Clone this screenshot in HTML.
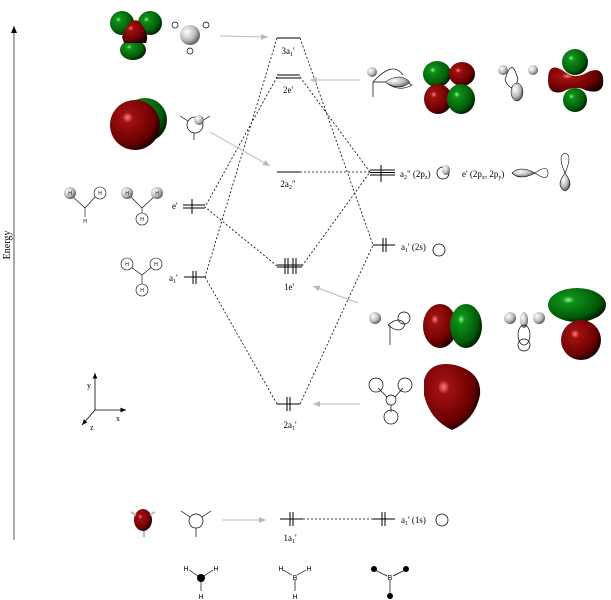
<!DOCTYPE html>
<html><head><meta charset="utf-8"><style>
body{margin:0;background:#fff}
svg{display:block;font-family:"Liberation Serif",serif}
</style></head><body>
<svg width="611" height="600" viewBox="0 0 611 600" xmlns="http://www.w3.org/2000/svg">
<defs>
<radialGradient id="r" cx="35%" cy="35%" r="70%"><stop offset="0" stop-color="#ff8080"/><stop offset="0.15" stop-color="#a01010"/><stop offset="0.75" stop-color="#6a0000"/><stop offset="1" stop-color="#1a0000"/></radialGradient>
<radialGradient id="g" cx="35%" cy="35%" r="70%"><stop offset="0" stop-color="#80ff80"/><stop offset="0.15" stop-color="#10901a"/><stop offset="0.75" stop-color="#005a08"/><stop offset="1" stop-color="#001a00"/></radialGradient>
<radialGradient id="w" cx="35%" cy="35%" r="70%"><stop offset="0" stop-color="#fff"/><stop offset="0.6" stop-color="#bbb"/><stop offset="1" stop-color="#555"/></radialGradient>
<marker id="ah" markerWidth="8" markerHeight="8" refX="7" refY="3" orient="auto"><path d="M0,0 L7,3 L0,6 z" fill="#000"/></marker>
<marker id="ga" markerWidth="8" markerHeight="8" refX="7" refY="3" orient="auto"><path d="M0,0 L7,3 L0,6 z" fill="#bbb"/></marker>
</defs>
<!-- energy axis -->
<line x1="14" y1="540" x2="14" y2="26" stroke="#555" stroke-width="1" marker-end="url(#ah)"/>
<text x="10" y="245" font-size="10" transform="rotate(-90 10 245)" text-anchor="middle">Energy</text>

<g stroke="#000" stroke-width="1" fill="none">
<!-- MO levels -->
<line x1="277" y1="38" x2="300" y2="38"/>
<line x1="277" y1="75" x2="300" y2="75"/><line x1="277" y1="78" x2="300" y2="78"/>
<line x1="277" y1="172" x2="300" y2="172"/>
<line x1="277" y1="265" x2="302" y2="265"/><line x1="277" y1="267" x2="302" y2="267"/>
<line x1="277" y1="404" x2="300" y2="404"/>
<line x1="280" y1="519" x2="303" y2="519"/>
<!-- left frag -->
<line x1="183" y1="205" x2="205" y2="205"/><line x1="183" y1="208" x2="205" y2="208"/>
<line x1="184" y1="277" x2="205" y2="277"/>
<!-- right B -->
<line x1="370" y1="170" x2="395" y2="170"/><line x1="370" y1="172.5" x2="395" y2="172.5"/><line x1="370" y1="175" x2="395" y2="175"/>
<line x1="373" y1="245" x2="395" y2="245"/>
<line x1="373" y1="519" x2="395" y2="519"/>
</g>
<!-- electrons -->
<g stroke="#000" stroke-width="1" fill="#000">
<line x1="192" y1="199" x2="192" y2="214"/>
<line x1="193" y1="271" x2="193" y2="284"/><line x1="196" y1="271" x2="196" y2="284"/>
<line x1="285" y1="258" x2="285" y2="274"/><line x1="288" y1="258" x2="288" y2="274"/><line x1="293" y1="258" x2="293" y2="274"/><line x1="296" y1="258" x2="296" y2="274"/>
<line x1="287" y1="397" x2="287" y2="411"/><line x1="290" y1="397" x2="290" y2="411"/>
<line x1="290" y1="512" x2="290" y2="526"/><line x1="293" y1="512" x2="293" y2="526"/>
<line x1="381" y1="165" x2="381" y2="182"/>
<line x1="383" y1="238" x2="383" y2="252"/><line x1="386" y1="238" x2="386" y2="252"/>
<line x1="382" y1="512" x2="382" y2="526"/><line x1="385" y1="512" x2="385" y2="526"/>
</g>
<!-- dashed connectors -->
<g stroke="#000" stroke-width="0.8" stroke-dasharray="2,2" fill="none">
<line x1="277" y1="38" x2="205" y2="277"/>
<line x1="277" y1="77" x2="205" y2="207"/>
<line x1="277" y1="266" x2="205" y2="207"/>
<line x1="277" y1="404" x2="205" y2="277"/>
<line x1="300" y1="38" x2="373" y2="245"/>
<line x1="300" y1="77" x2="370" y2="172"/>
<line x1="300" y1="172" x2="370" y2="172"/>
<line x1="302" y1="266" x2="370" y2="172"/>
<line x1="300" y1="404" x2="373" y2="245"/>
<line x1="303" y1="519" x2="373" y2="519"/>
</g>
<!-- grey arrows -->
<g stroke="#bbb" stroke-width="1" marker-end="url(#ga)">
<line x1="220" y1="36" x2="268" y2="37"/>
<line x1="360" y1="80" x2="310" y2="80"/>
<line x1="210" y1="132" x2="270" y2="166"/>
<line x1="358" y1="303" x2="313" y2="286"/>
<line x1="360" y1="404" x2="313" y2="404"/>
<line x1="222" y1="520" x2="266" y2="520"/>
</g>
<!-- labels -->
<g font-size="9" text-anchor="middle">
<text x="288" y="54">3a<tspan font-size="6" dy="2">1</tspan><tspan dy="-2">'</tspan></text>
<text x="288" y="93">2e'</text>
<text x="288" y="187">2a<tspan font-size="6" dy="2">2</tspan><tspan dy="-2">"</tspan></text>
<text x="289" y="290">1e'</text>
<text x="290" y="428">2a<tspan font-size="6" dy="2">1</tspan><tspan dy="-2">'</tspan></text>
<text x="290" y="541">1a<tspan font-size="6" dy="2">1</tspan><tspan dy="-2">'</tspan></text>
</g>
<g font-size="9">
<text x="172" y="209">e'</text>
<text x="169" y="281">a<tspan font-size="6" dy="2">1</tspan><tspan dy="-2">'</tspan></text>
<text x="400" y="177">a<tspan font-size="6" dy="2">2</tspan><tspan dy="-2">" (2p</tspan><tspan font-size="6" dy="2">z</tspan><tspan dy="-2">)</tspan></text>
<text x="462" y="177">e' (2p<tspan font-size="6" dy="2">x</tspan><tspan dy="-2">, 2p</tspan><tspan font-size="6" dy="2">y</tspan><tspan dy="-2">)</tspan></text>
<text x="401" y="250">a<tspan font-size="6" dy="2">1</tspan><tspan dy="-2">' (2s)</tspan></text>
<text x="401" y="523">a<tspan font-size="6" dy="2">1</tspan><tspan dy="-2">' (1s)</tspan></text>
</g>
<!-- small circles right -->
<g stroke="#000" stroke-width="0.8" fill="none">
<circle cx="439" cy="250" r="6"/>
<circle cx="442" cy="520" r="6"/>
<circle cx="443" cy="173" r="6"/>
</g>
<ellipse cx="446" cy="170" rx="4" ry="5" fill="url(#w)"/>
<path d="M512,173 Q520,165 535,173 Q520,181 512,173z" fill="url(#w)" stroke="#000" stroke-width="0.6"/>
<path d="M535,173 Q548,164 548,173 Q548,182 535,173z" fill="none" stroke="#000" stroke-width="0.6"/>
<path d="M305,170 Q296,180 305,190 Q314,180 305,170z" fill="none" stroke="none"/>
<path d="M565,173 Q555,186 565,191 Q575,186 565,173z" fill="url(#w)" stroke="#000" stroke-width="0.6"/>
<path d="M565,173 Q557,155 565,153 Q573,155 565,173z" fill="none" stroke="#000" stroke-width="0.6"/>

<!-- top left 3a1' -->
<circle cx="122" cy="23" r="12" fill="url(#g)"/>
<circle cx="150" cy="23" r="12" fill="url(#g)"/>
<ellipse cx="133" cy="50" rx="13" ry="10" fill="url(#g)"/>
<path d="M122,37 Q130,15 140,22 Q150,35 146,43 L124,43z" fill="url(#r)"/>
<circle cx="190" cy="35" r="10" fill="url(#w)"/>
<g stroke="#000" stroke-width="0.7" fill="#fff"><circle cx="175" cy="25" r="3"/><circle cx="206" cy="25" r="3"/><circle cx="190" cy="51" r="3"/></g>

<!-- red sphere -->
<circle cx="145" cy="120" r="22" fill="url(#g)"/>
<circle cx="135" cy="125" r="25" fill="url(#r)"/>
<g stroke="#000" stroke-width="0.7" fill="none"><circle cx="195" cy="125" r="8"/><line x1="180" y1="116" x2="188" y2="121"/><line x1="210" y1="116" x2="202" y2="121"/><line x1="194" y1="133" x2="194" y2="140"/></g>
<circle cx="199" cy="120" r="5" fill="url(#w)"/>

<!-- left frag H3 -->
<g stroke="#000" stroke-width="0.6" fill="none" font-family="Liberation Sans" font-size="5">
<line x1="72" y1="196" x2="85" y2="208"/><line x1="85" y1="208" x2="96" y2="196"/><line x1="85" y1="208" x2="85" y2="217"/>
<circle cx="100" cy="193" r="6" fill="#fff"/>
<line x1="130" y1="196" x2="142" y2="208"/><line x1="142" y1="208" x2="155" y2="196"/><line x1="142" y1="208" x2="142" y2="214"/>
<circle cx="142" cy="219" r="6" fill="#fff"/>
<line x1="128" y1="265" x2="142" y2="275"/><line x1="142" y1="275" x2="154" y2="265"/><line x1="142" y1="275" x2="142" y2="284"/>
<circle cx="127" cy="264" r="6" fill="#fff"/><circle cx="156" cy="264" r="6" fill="#fff"/><circle cx="142" cy="290" r="6" fill="#fff"/>
</g>
<circle cx="70" cy="193" r="6" fill="url(#w)"/><circle cx="127" cy="193" r="6" fill="url(#w)"/><circle cx="157" cy="193" r="6" fill="url(#w)"/>
<g font-family="Liberation Sans" font-size="5" text-anchor="middle"><text x="70" y="195">H</text><text x="100" y="195">H</text><text x="85" y="223">H</text><text x="127" y="195">H</text><text x="157" y="195">H</text><text x="142" y="221">H</text><text x="127" y="266">H</text><text x="156" y="266">H</text><text x="142" y="292">H</text></g>

<!-- axes -->
<g stroke="#000" stroke-width="0.8" fill="none">
<line x1="95" y1="410" x2="95" y2="373" marker-end="url(#ah)"/>
<line x1="95" y1="410" x2="126" y2="410" marker-end="url(#ah)"/>
<line x1="95" y1="410" x2="82" y2="425" marker-end="url(#ah)"/>
</g>
<g font-size="8"><text x="87" y="388">y</text><text x="116" y="421">x</text><text x="90" y="430">z</text></g>

<!-- right 2e' -->
<g stroke="#000" stroke-width="0.7" fill="none">
<path d="M373,82 L395,82 M373,82 L373,97"/><path d="M373,82 Q393,60 403,75"/>
<path d="M388,84 Q400,78 412,85 Q400,92 388,84"/>
<path d="M505,80 Q512,55 518,80 Q512,95 505,80"/>
</g>
<circle cx="372" cy="72" r="5" fill="url(#w)"/>
<path d="M385,82 Q400,72 410,82 Q400,92 385,82z" fill="url(#w)" stroke="#000" stroke-width="0.5"/>
<circle cx="503" cy="70" r="5" fill="url(#w)"/><circle cx="533" cy="70" r="5" fill="url(#w)"/>
<ellipse cx="517" cy="92" rx="6" ry="9" fill="url(#w)" stroke="#000" stroke-width="0.5"/>
<ellipse cx="437" cy="74" rx="14" ry="13" fill="url(#g)"/>
<ellipse cx="462" cy="74" rx="13" ry="12" fill="url(#r)"/>
<ellipse cx="438" cy="99" rx="14" ry="15" fill="url(#r)"/>
<ellipse cx="461" cy="99" rx="14" ry="15" fill="url(#g)"/>
<ellipse cx="575" cy="62" rx="13" ry="13" fill="url(#g)"/>
<path d="M548,80 Q548,60 565,72 Q575,80 588,72 Q605,65 603,85 Q600,95 585,90 Q575,85 562,92 Q548,95 548,80z" fill="url(#r)"/>
<ellipse cx="575" cy="100" rx="12" ry="12" fill="url(#g)"/>

<!-- right 1e' -->
<g stroke="#000" stroke-width="0.7" fill="none"><line x1="390" y1="325" x2="390" y2="345"/><circle cx="404" cy="318" r="6"/><path d="M388,325 Q400,315 405,325 Q400,335 388,325"/></g>
<circle cx="375" cy="318" r="6" fill="url(#w)"/>
<ellipse cx="440" cy="326" rx="17" ry="22" fill="url(#r)"/>
<ellipse cx="466" cy="326" rx="16" ry="22" fill="url(#g)"/>
<circle cx="510" cy="318" r="6" fill="url(#w)"/><circle cx="539" cy="318" r="6" fill="url(#w)"/>
<ellipse cx="524" cy="320" rx="4" ry="8" fill="url(#w)"/>
<g stroke="#000" stroke-width="0.7" fill="none"><ellipse cx="524" cy="335" rx="6" ry="10"/><circle cx="524" cy="345" r="6"/></g>
<ellipse cx="577" cy="305" rx="29" ry="17" fill="url(#g)"/>
<circle cx="581" cy="340" r="20" fill="url(#r)"/>

<!-- right 2a1' -->
<g stroke="#000" stroke-width="0.7" fill="none">
<circle cx="376" cy="385" r="7"/><circle cx="405" cy="385" r="7"/><circle cx="391" cy="417" r="7"/>
<circle cx="391" cy="400" r="5" fill="#fff"/>
<line x1="378" y1="388" x2="387" y2="397"/><line x1="403" y1="388" x2="395" y2="397"/><line x1="391" y1="405" x2="391" y2="412"/>
</g>
<path d="M424,380 Q430,360 455,365 Q482,372 480,395 Q475,420 452,430 Q430,420 424,395z" fill="url(#r)"/>

<!-- bottom 1a1' -->
<ellipse cx="143" cy="520" rx="9" ry="11" fill="url(#r)"/>
<g stroke="#bbb" stroke-width="2"><line x1="131" y1="512" x2="136" y2="515"/><line x1="155" y1="512" x2="150" y2="515"/><line x1="144" y1="531" x2="144" y2="537"/></g>
<g stroke="#000" stroke-width="0.7" fill="none"><circle cx="196" cy="521" r="7"/><line x1="181" y1="511" x2="190" y2="517"/><line x1="211" y1="511" x2="202" y2="517"/><line x1="196" y1="528" x2="196" y2="537"/></g>

<!-- bottom structures -->
<g stroke="#000" stroke-width="0.7"><line x1="189" y1="570" x2="201" y2="578"/><line x1="213" y1="570" x2="201" y2="578"/><line x1="201" y1="578" x2="201" y2="591"/>
<line x1="283" y1="570" x2="292" y2="575"/><line x1="306" y1="570" x2="297" y2="575"/><line x1="295" y1="580" x2="295" y2="591"/>
<line x1="375" y1="570" x2="387" y2="576"/><line x1="405" y1="570" x2="393" y2="576"/><line x1="390" y1="580" x2="390" y2="595"/></g>
<circle cx="201" cy="578" r="4" fill="#000"/>
<circle cx="374" cy="569" r="3" fill="#000"/><circle cx="406" cy="569" r="3" fill="#000"/><circle cx="390" cy="596" r="3" fill="#000"/>
<g font-family="Liberation Sans" font-size="7" text-anchor="middle">
<text x="186" y="571">H</text><text x="216" y="571">H</text><text x="201" y="599">H</text>
<text x="281" y="571">H</text><text x="309" y="571">H</text><text x="295" y="580">B</text><text x="295" y="599">H</text>
<text x="390" y="580">B</text>
</g>
</svg>
</body></html>
